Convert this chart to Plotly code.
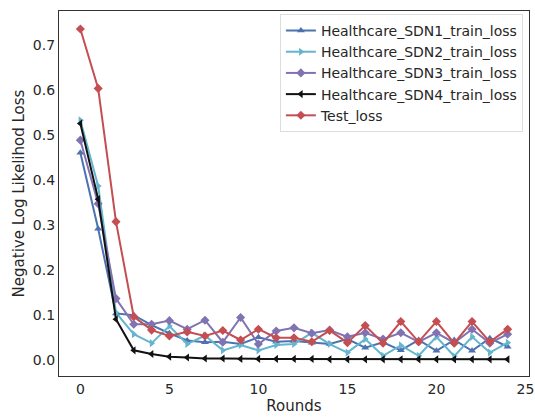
import plotly.graph_objects as go

rounds = list(range(25))

sdn1 = [0.460, 0.291, 0.103, 0.099, 0.077, 0.059, 0.043, 0.039, 0.040, 0.035, 0.050, 0.040, 0.042,
        0.038, 0.035, 0.046, 0.027, 0.039, 0.021, 0.044, 0.020, 0.044, 0.020, 0.048, 0.029]
sdn2 = [0.532, 0.386, 0.105, 0.057, 0.037, 0.075, 0.035, 0.054, 0.021, 0.033, 0.021, 0.033, 0.035,
        0.060, 0.035, 0.016, 0.046, 0.009, 0.032, 0.009, 0.051, 0.008, 0.051, 0.016, 0.038]
sdn3 = [0.488, 0.347, 0.136, 0.079, 0.079, 0.087, 0.068, 0.088, 0.039, 0.094, 0.035, 0.064, 0.071,
        0.059, 0.066, 0.051, 0.060, 0.046, 0.060, 0.040, 0.060, 0.038, 0.068, 0.037, 0.057]
sdn4 = [0.525, 0.357, 0.090, 0.021, 0.013, 0.007, 0.005, 0.003, 0.003, 0.002, 0.002, 0.002, 0.002,
        0.002, 0.001, 0.001, 0.001, 0.001, 0.001, 0.001, 0.001, 0.001, 0.001, 0.001, 0.001]
test = [0.735, 0.603, 0.307, 0.096, 0.066, 0.053, 0.062, 0.053, 0.065, 0.044, 0.068, 0.049, 0.049,
        0.040, 0.065, 0.038, 0.076, 0.037, 0.085, 0.040, 0.085, 0.037, 0.085, 0.040, 0.068]

series = [
    ("Healthcare_SDN1_train_loss", sdn1, "#4C72B0", "triangle-up"),
    ("Healthcare_SDN2_train_loss", sdn2, "#64B5CD", "triangle-right"),
    ("Healthcare_SDN3_train_loss", sdn3, "#8172B2", "diamond"),
    ("Healthcare_SDN4_train_loss", sdn4, "#111111", "triangle-left"),
    ("Test_loss", test, "#C44E52", "diamond"),
]

fig = go.Figure()
for name, vals, color, sym in series:
    fig.add_trace(go.Scatter(
        x=rounds, y=vals, name=name, mode="lines+markers",
        line=dict(color=color, width=2),
        marker=dict(symbol=sym, size=7, color=color),
    ))

axis_common = dict(
    showgrid=False, zeroline=False, showline=True, mirror=True,
    linecolor="#333333", linewidth=1.3, ticks="", automargin=False,
    tickfont=dict(family="DejaVu Sans", size=14, color="#262626"),
)

fig.update_layout(
    width=535, height=417,
    margin=dict(l=59, r=6, t=11, b=41),
    paper_bgcolor="white", plot_bgcolor="white",
    font=dict(family="DejaVu Sans", color="#262626"),
    xaxis=dict(range=[-1.2, 25.2], tickvals=[0, 5, 10, 15, 20, 25],
               title=dict(text="Rounds", font=dict(size=15, color="#262626"), standoff=0),
               **axis_common),
    yaxis=dict(range=[-0.036, 0.775], tickvals=[0.0, 0.1, 0.2, 0.3, 0.4, 0.5, 0.6, 0.7],
               tickformat=".1f",
               title=dict(text="Negative Log Likelihod Loss", font=dict(size=15, color="#262626"), standoff=4),
               **axis_common),
    legend=dict(x=0.987, y=0.992, xanchor="right", yanchor="top",
                bgcolor="rgba(255,255,255,0.8)", bordercolor="#DDDDDD", borderwidth=1,
                font=dict(family="DejaVu Sans", size=14, color="#262626"),
                tracegroupgap=0, itemwidth=30),
    showlegend=True,
)

fig.write_html("out.html", config={"displayModeBar": False},
               post_script="document.body.style.margin='0';document.body.style.padding='0';")
